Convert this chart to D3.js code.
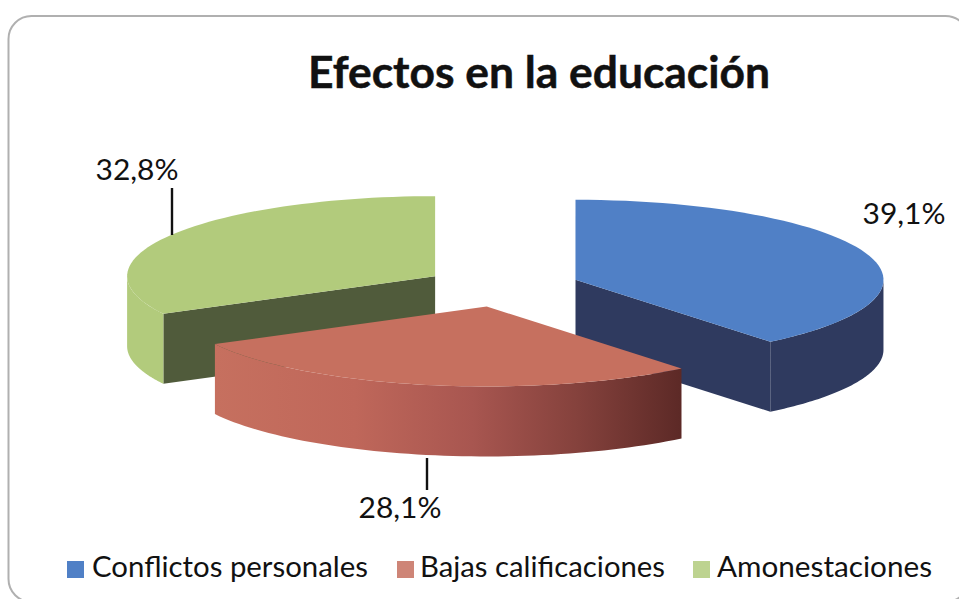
<!DOCTYPE html>
<html><head><meta charset="utf-8">
<script src="https://cdn.jsdelivr.net/npm/d3@7/dist/d3.min.js"></script>
<style>html,body{margin:0;padding:0;background:#fff;overflow:hidden}svg{display:block}
text{font-family:Lato,"Open Sans",sans-serif;fill:#111}</style></head><body>
<script>
const chartTitle = "Efectos en la educación";
const categories = ["Conflictos personales","Bajas calificaciones","Amonestaciones"];
const values = [39.1,28.1,32.8];
const topColors = ["#5080c6","#c6705f","#b2cb7c"];
const sideColors = ["#2f3a5f","#c0685c","#b2cb7c"];
const cutColors = ["#2f3a5f","#7a3733","#505b3b"];

const W=959,H=599;
const cx=502, cy=286.6, rx=308, ry=80, depth=70, explode=78;
const svg=d3.select("body").append("svg").attr("width",W).attr("height",H);
const defs=svg.append("defs");
const g=defs.append("linearGradient").attr("id","redWall").attr("gradientUnits","userSpaceOnUse")
  .attr("x1",215).attr("x2",682).attr("y1",0).attr("y2",0);
[[0,"#c6705f"],[0.3,"#bf675a"],[0.55,"#a85650"],[0.78,"#84413c"],[1,"#5c2926"]].forEach(s=>g.append("stop").attr("offset",s[0]).attr("stop-color",s[1]));

svg.append("rect").attr("x",8.5).attr("y",16).attr("width",960).attr("height",586).attr("rx",23)
  .attr("fill","#fff").attr("stroke","#b0b0b0").attr("stroke-width",2);

svg.append("text").attr("x",539).attr("y",88).attr("text-anchor","middle")
  .attr("font-size",44).attr("font-weight",700).attr("stroke","#111").attr("stroke-width",0.5)
  .attr("textLength",462).attr("lengthAdjust","spacingAndGlyphs").text(chartTitle);

const slices=d3.pie().sort(null).value(d=>d)(values);
const sx=d3.scaleLinear().domain([-1,1]).range([-rx,rx]);
const sy=d3.scaleLinear().domain([-1,1]).range([-ry,ry]);
slices.forEach(s=>{
  const m=(s.startAngle+s.endAngle)/2;
  s.ox=cx+explode*Math.sin(m);
  s.oy=cy-explode*(ry/rx)*Math.cos(m);
});
const pt=(s,a,dz=0)=>[s.ox+sx(Math.sin(a)),s.oy+sy(-Math.cos(a))+dz];
const samples=(a,b)=>d3.range(61).map(i=>a+(b-a)*i/60);
const line=d3.line();
const PI=Math.PI;

function drawSlice(s,i){
  const G=svg.append("g");
  const wallA=Math.max(s.startAngle,PI/2), wallB=Math.min(s.endAngle,3*PI/2);
  const faces=[];
  if(s.endAngle>PI/2 && s.endAngle<3*PI/2) faces.push(s.endAngle);
  if(s.startAngle>PI && s.startAngle<2*PI) faces.push(s.startAngle);
  if(i!==1) faces.forEach(a=>{
    const p=pt(s,a);
    G.append("path").attr("fill",cutColors[i]).attr("d",line([[s.ox,s.oy],p,[p[0],p[1]+depth],[s.ox,s.oy+depth]])+"Z");
  });
  if(wallB>wallA){
    const arc=samples(wallA,wallB);
    const poly=arc.map(a=>pt(s,a)).concat(arc.slice().reverse().map(a=>pt(s,a,depth)));
    G.append("path").attr("fill",i===1?"url(#redWall)":sideColors[i]).attr("d",line(poly)+"Z");
  }
  const top=[[s.ox,s.oy]].concat(samples(s.startAngle,s.endAngle).map(a=>pt(s,a)));
  G.append("path").attr("fill",topColors[i]).attr("d",line(top)+"Z");
}
[2,0,1].forEach(i=>drawSlice(slices[i],i));

const fmt=v=>v.toFixed(1).replace(".",",")+"%";
const labelPos=[{x:904,y:224},{x:400,y:518},{x:137,y:180}];
values.forEach((v,i)=>svg.append("text").attr("x",labelPos[i].x).attr("y",labelPos[i].y)
  .attr("text-anchor","middle").attr("font-size",29).attr("textLength",83).attr("lengthAdjust","spacingAndGlyphs").text(fmt(v)));
const leaders=[[427,458,490],[172,188,235]];
leaders.forEach(l=>svg.append("line").attr("x1",l[0]).attr("x2",l[0]).attr("y1",l[1]).attr("y2",l[2]).attr("stroke","#111").attr("stroke-width",2.4));

const legendX=[{sq:67,tx:92,w:276},{sq:397,tx:420,w:245},{sq:693,tx:717,w:215}];
categories.forEach((c,i)=>{
  svg.append("rect").attr("x",legendX[i].sq).attr("y",561).attr("width",17).attr("height",17).attr("fill",topColors[i]).attr("opacity",i?0.85:1);
  svg.append("text").attr("x",legendX[i].tx).attr("y",577).attr("font-size",29)
    .attr("textLength",legendX[i].w).attr("lengthAdjust","spacingAndGlyphs").text(c);
});
</script></body></html>
